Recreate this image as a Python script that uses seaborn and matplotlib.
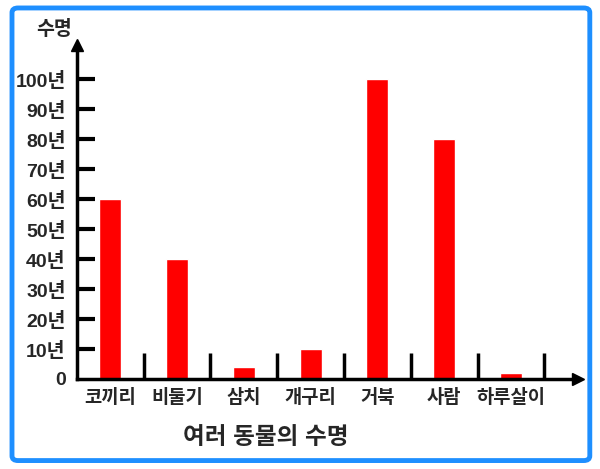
import numpy as np
import pandas as pd
import seaborn as sns
import matplotlib.pyplot as plt
from matplotlib.patches import FancyBboxPatch

# data
animals = ['코끼리', '비둘기', '삼치', '개구리', '거북', '사람', '하루살이']
lifespan = [60, 40, 4, 10, 100, 80, 2]
y_ticks = list(range(0, 101, 10))
y_tick_labels = ['0'] + [f'{v}년' for v in y_ticks[1:]]

df = pd.DataFrame({'animal': animals, 'years': lifespan})

sns.set_style('white')
plt.rcParams['font.family'] = ['Liberation Sans', 'Noto Sans CJK KR']

fig = plt.figure(figsize=(6, 4.69), dpi=100)
ax = fig.add_axes([0.128, 0.192, 0.835, 0.712])

sns.barplot(data=df, x='animal', y='years', color='#ff0000', saturation=1,
            width=0.33, ax=ax)

ax.set_xlim(-0.5, 7.0)
ax.set_ylim(0, 111.5)

# axes with arrows
for side in ['top', 'right']:
    ax.spines[side].set_visible(False)
for side in ['left', 'bottom']:
    ax.spines[side].set_linewidth(2.5)
    ax.spines[side].set_color('black')
ax.plot(1, 0, '>k', markersize=9, transform=ax.get_yaxis_transform(), clip_on=False)
ax.plot(0, 1, '^k', markersize=9, transform=ax.transAxes, clip_on=False)

# y ticks: labels plus short inward marks drawn in data space
ax.set_yticks(y_ticks)
ax.set_yticklabels(y_tick_labels, fontsize=14, fontweight='bold')
ax.tick_params(axis='y', length=0, pad=8)
x0 = ax.get_xlim()[0]
tick_len = 0.036 * (ax.get_xlim()[1] - x0)
ax.hlines(y_ticks[1:], x0, x0 + tick_len, color='black', linewidth=3, zorder=5)

# category separators
seps = np.arange(len(animals)) + 0.5
ax.vlines(seps, 0, 8.5, color='black', linewidth=2.5)

ax.set_xticks(range(len(animals)))
ax.set_xticklabels(animals, fontsize=13.5, fontweight='bold')
ax.tick_params(axis='x', length=0, pad=7)
ax.set_xlabel('')
ax.set_ylabel('')

fig.text(0.09, 0.938, '수명', fontsize=14, fontweight='bold', ha='center', va='center')
fig.text(0.443, 0.068, '여러 동물의 수명', fontsize=17, fontweight='bold', ha='center', va='center')

# blue frame
frame = FancyBboxPatch((0.02, 0.018), 0.963, 0.965, boxstyle='round,pad=0,rounding_size=0.01',
                       transform=fig.transFigure, fill=False, edgecolor='#1e8fff', linewidth=3.5)
fig.patches.append(frame)

fig.savefig('out.png', dpi=100)
